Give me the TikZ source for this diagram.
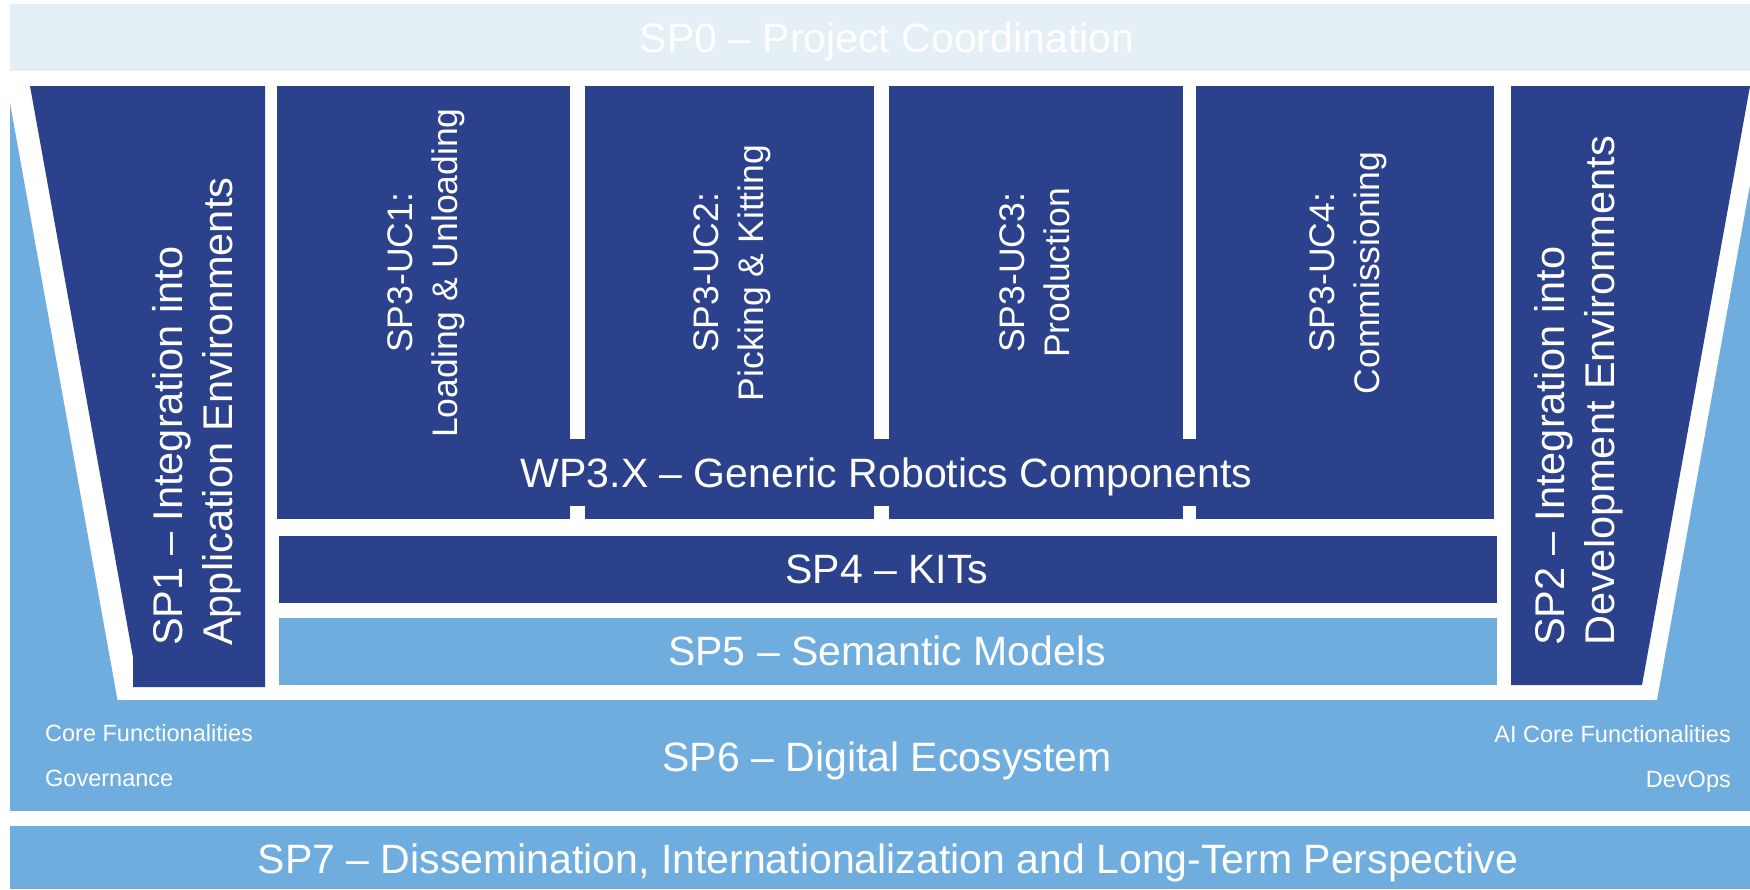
\documentclass[tikz,border=0pt]{standalone}
\usepackage{fontspec}
\setmainfont{Liberation Sans}
\definecolor{navy}{RGB}{44,65,139}
\definecolor{sky}{RGB}{112,173,223}
\definecolor{pale}{RGB}{228,239,246}
\begin{document}
\begin{tikzpicture}[x=1pt,y=-1pt,
  lbl/.style={text=white, inner sep=0pt, anchor=base, font=\fontsize{41}{50}\selectfont},
  uclbl/.style={text=white, inner sep=0pt, rotate=90, align=center, font=\fontsize{35.5}{45}\selectfont},
  sidelbl/.style={text=white, inner sep=0pt, rotate=90, align=left, anchor=west, font=\fontsize{41.5}{50}\selectfont},
  small/.style={text=white, inner sep=0pt, font=\fontsize{23.5}{28}\selectfont},
  gap/.style={fill=white}]
\useasboundingbox (0,0) rectangle (1750,889);
\fill[white] (0,0) rectangle (1750,889);
% SP0 band
\fill[pale] (10,4) rectangle (1750,71);
% light blue side wedges, SP6, SP7
\fill[sky] (10,103) -- (117.5,700) -- (10,700) -- cycle;
\fill[sky] (1750,185) -- (1657,700) -- (1750,700) -- cycle;
\fill[sky] (10,700) rectangle (1750,811);
\fill[sky] (10,826) rectangle (1750,889);
% SP1 and SP2
\fill[navy] (30,86) -- (265,86) -- (265,687) -- (133,687) -- (133,657) -- cycle;
\fill[navy] (1511,86) -- (1750,86) -- (1642,685) -- (1511,685) -- cycle;
% SP3 use cases with WP3.X band
\fill[navy] (277,86) rectangle (1494,519);
\foreach \a/\b in {570/585, 874/889, 1183/1196}{
  \fill[gap] (\a,86) rectangle (\b,439);
  \fill[gap] (\a,506) rectangle (\b,519);
}
% SP4, SP5
\fill[navy] (279,536) rectangle (1497,603);
\fill[sky] (279,618) rectangle (1497,685);
% texts
\node[lbl] (sp0) at (887,52.5) {SP0 – Project Coordination};
\node[uclbl] (uc1) at (426.3,273) {SP3-UC1:\\Loading \& Unloading};
\node[uclbl] (uc2) at (732.3,273) {SP3-UC2:\\Picking \& Kitting};
\node[uclbl] (uc3) at (1035,273) {SP3-UC3:\\Production};
\node[uclbl] (uc4) at (1347.8,273) {SP3-UC4:\\Commissioning};
\node[sidelbl] (sp1) at (197.2,646) {SP1 – Integration into\\Application Environments};
\node[sidelbl] (sp2) at (1579.2,646) {SP2 – Integration into\\Development Environments};
\node[lbl] (wp3x) at (886.5,487) {WP3.X – Generic Robotics Components};
\node[lbl] (sp4) at (887,583) {SP4 – KITs};
\node[lbl] (sp5) at (887,665) {SP5 – Semantic Models};
\node[lbl] (sp6) at (887,771.5) {SP6 – Digital Ecosystem};
\node[lbl] (sp7) at (888,873.5) {SP7 – Dissemination, Internationalization and Long-Term Perspective};
\node[small, anchor=base west] (core) at (45,741.5) {Core Functionalities};
\node[small, anchor=base west] (gov) at (45,786) {Governance};
\node[small, anchor=base east] (aicore) at (1731,742) {AI Core Functionalities};
\node[small, anchor=base east] (devops) at (1731,787) {DevOps};
\end{tikzpicture}
\end{document}
